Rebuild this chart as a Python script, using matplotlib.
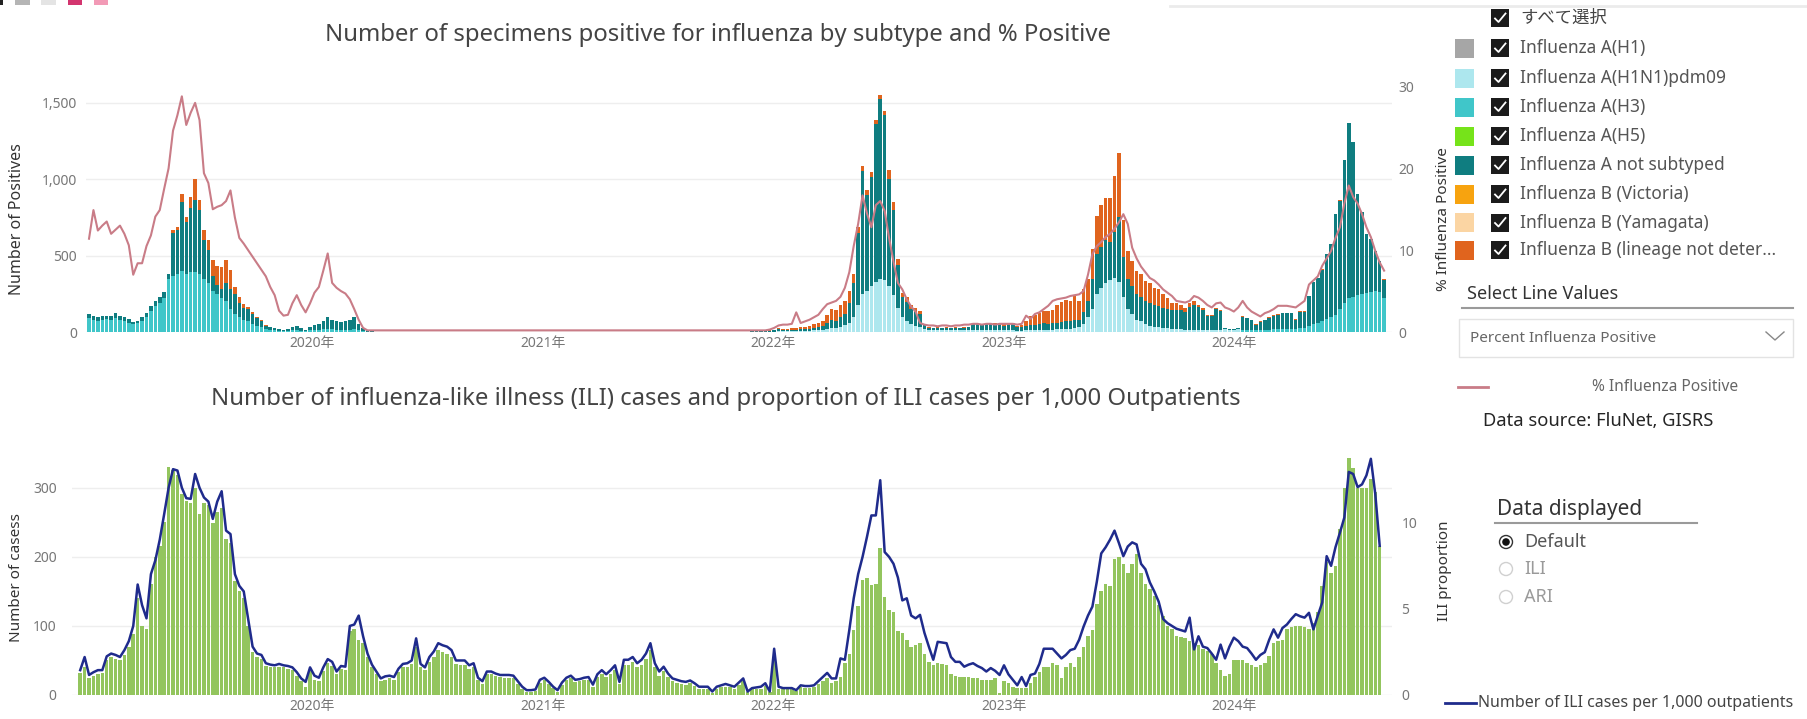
import numpy as np
import pandas as pd
import matplotlib
matplotlib.use("Agg")
import matplotlib.pyplot as plt
from matplotlib.patches import Rectangle, Circle
from matplotlib.ticker import FuncFormatter

plt.rcParams["font.family"] = ["Noto Sans", "Noto Sans CJK JP", "DejaVu Sans"]

# ---- weekly data ----
# top panel: specimens positive by subtype, weeks from 2019-01-13
top_start = "2019-01-13"
# bottom panel: ILI, weeks from 2018-12-30
ili_start = "2018-12-30"

a_h3 = [
    90, 80, 75, 80, 82, 78, 90, 80, 72, 62,
    50, 58, 75, 100, 140, 170, 190, 220, 350, 370,
    380, 400, 380, 390, 395, 380, 350, 320, 270, 250,
    220, 200, 150, 120, 100, 80, 70, 55, 40, 30,
    20, 14, 10, 8, 6, 8, 12, 14, 9, 4,
    10, 12, 14, 18, 22, 20, 16, 15, 16, 16,
    20, 12, 6, 3, 2, 0, 0, 0, 0, 0,
    0, 0, 0, 0, 0, 0, 0, 0, 0, 0, 0, 0, 0, 0, 0, 0, 0, 0, 0, 0, 0, 0, 0, 0, 0, 0, 0, 0, 0, 0, 0, 0, 0, 0, 0, 0, 0, 0, 0, 0,
    0, 0, 0, 0, 0, 0, 0, 0, 0, 0, 0, 0, 0, 0, 0, 0, 0, 0, 0, 0, 0, 0, 0, 0, 0, 0, 0, 0, 0, 0, 0, 0, 0, 0, 0, 0, 0, 0, 0, 0,
    0, 0, 0, 0, 0, 0, 0, 0, 0, 0, 0, 0, 0, 0, 0, 0, 0, 0, 0, 0, 0, 0, 0, 0, 0, 0, 0, 0, 0, 0, 0, 0, 0, 0, 0, 0, 0, 0, 0, 0,
    0, 0, 0, 0, 0, 0, 0, 0, 0, 0, 0, 0, 0, 0, 0, 0, 0, 0, 0, 0, 0, 0, 0, 0, 0, 0, 0, 0, 0, 0, 0, 0, 0, 0, 0, 0, 0, 0, 0, 0,
    0, 0, 0, 0, 0, 0, 0, 0, 0, 0, 0, 0, 0, 0, 0, 0, 0, 0, 0, 0, 0, 0, 0, 0, 0, 0, 0, 0, 0, 0,
    0, 15, 15, 14, 12, 14, 15, 16, 18, 18,
    20, 20, 22, 18, 25, 28, 40, 50, 60, 70,
    85, 100, 114, 150, 190, 224, 230, 240, 250, 255,
    260, 268, 260, 220,
]

a_h1n1pdm = [
    0, 0, 0, 0, 0, 0, 0, 0, 0, 0, 0, 0, 0, 0, 0, 0, 0, 0, 0, 0, 0, 0, 0, 0, 0, 0, 0, 0, 0, 0, 0, 0, 0, 0, 0, 0, 0, 0, 0, 0,
    0, 0, 0, 0, 0, 0, 0, 0, 0, 0, 0, 0, 0, 0, 0, 0, 0, 0, 0, 0, 0, 0, 0, 0, 0, 0, 0, 0, 0, 0, 0, 0, 0, 0, 0, 0, 0, 0, 0, 0,
    0, 0, 0, 0, 0, 0, 0, 0, 0, 0, 0, 0, 0, 0, 0, 0, 0, 0, 0, 0, 0, 0, 0, 0, 0, 0, 0, 0, 0, 0, 0, 0, 0, 0, 0, 0, 0, 0, 0, 0,
    0, 0, 0, 0, 0, 0, 0, 0, 0, 0, 0, 0, 0, 0, 0, 0, 0, 0, 0, 0, 0, 0, 0, 0, 0, 0, 0, 0, 0, 0,
    1, 1, 2, 2, 2, 3, 5, 4, 4, 5,
    5, 6, 6, 8, 10, 12, 15, 20, 25, 25,
    35, 45, 60, 100, 180, 250, 270, 300, 330, 350,
    340, 300, 240, 160, 100, 70, 50, 40, 30, 20,
    15, 14, 14, 12, 13, 12, 12, 10, 10, 10,
    12, 12, 10, 12, 12, 12, 10, 10, 10, 10,
    8, 8, 10, 12, 12, 14, 15, 15, 16, 18,
    20, 22, 22, 28, 30, 50, 100, 150, 250, 290,
    320, 340, 356, 330, 230, 150, 120, 80, 70, 50,
    40, 35, 30, 28, 25, 22, 20, 18, 16, 16,
    15, 15, 14, 12, 12, 12, 12, 18, 16, 16,
    18,
    0, 0, 0, 0, 0, 0, 0, 0, 0, 0, 0, 0, 0, 0, 0, 0, 0, 0, 0, 0, 0, 0, 0, 0, 0, 0, 0, 0, 0, 0, 0, 0, 0,
]

a_not_subtyped = [
    30, 25, 23, 25, 26, 26, 32, 28, 26, 23,
    18, 17, 20, 22, 30, 35, 38, 42, 30, 280,
    290, 450, 340, 420, 470, 420, 250, 215, 100, 60,
    60, 120, 130, 130, 90, 80, 80, 66, 52, 42,
    22, 18, 15, 10, 9, 12, 20, 26, 16, 8,
    25, 33, 41, 52, 76, 60, 54, 50, 59, 62,
    78, 38, 19, 7, 3,
    0, 0, 0, 0, 0, 0, 0, 0, 0, 0, 0, 0, 0, 0, 0, 0, 0, 0, 0, 0, 0, 0, 0, 0, 0, 0, 0, 0, 0, 0, 0, 0, 0, 0, 0, 0, 0, 0, 0, 0,
    0, 0, 0, 0, 0, 0, 0, 0, 0, 0, 0, 0, 0, 0, 0, 0, 0, 0, 0, 0, 0, 0, 0, 0, 0, 0, 0, 0, 0, 0, 0, 0, 0, 0, 0, 0, 0, 0, 0, 0,
    0, 0, 0, 0, 0,
    4, 4, 6, 6, 6, 8, 12, 8, 8, 10,
    10, 14, 12, 14, 16, 20, 25, 40, 55, 50,
    60, 75, 130, 220, 470, 807, 628, 714, 1030, 1175,
    1080, 700, 560, 280, 130, 125, 100, 93, 86, 24,
    14, 12, 14, 11, 15, 14, 16, 14, 18, 22,
    38, 42, 35, 44, 40, 40, 37, 32, 38, 40,
    24, 25, 30, 36, 37, 40, 41, 40, 41, 42,
    45, 48, 48, 52, 50, 80, 100, 200, 260, 270,
    280, 250, 300, 420, 260, 200, 180, 170, 160, 150,
    150, 140, 140, 130, 125, 120, 125, 125, 115, 150,
    165, 150, 132, 92, 94, 138, 128, 5, 4, 4,
    6, 85, 75, 65, 36, 54, 63, 77, 90, 95,
    103, 103, 101, 62, 109, 106, 193, 278, 294, 339,
    423, 474, 658, 710, 934, 1142, 1015, 664, 533, 385,
    347, 262, 204, 123,
]

b_not_determined = [
    0, 0, 0, 0, 0, 0, 0, 0, 0, 0,
    0, 0, 0, 0, 0, 0, 0, 0, 0, 16,
    20, 56, 35, 75, 135, 62, 65, 65, 100, 120,
    145, 150, 125, 45, 40, 26, 14, 10, 6, 4,
    2, 1,
    0, 0, 0, 0, 0, 0, 0, 0, 0, 0, 0, 0, 0, 0, 0, 0, 0, 0, 0, 0, 0, 0, 0, 0, 0, 0, 0, 0, 0, 0, 0, 0, 0, 0, 0, 0, 0, 0, 0, 0,
    0, 0, 0, 0, 0, 0, 0, 0, 0, 0, 0, 0, 0, 0, 0, 0, 0, 0, 0, 0, 0, 0, 0, 0, 0, 0, 0, 0, 0, 0, 0, 0, 0, 0, 0, 0, 0, 0, 0, 0,
    0, 0, 0, 0, 0, 0, 0, 0, 0, 0, 0, 0, 0, 0, 0, 0, 0, 0, 0, 0, 0, 0, 0, 0, 0, 0, 0, 0,
    0, 0, 0, 2, 2, 4, 9, 8, 8, 10,
    10, 15, 12, 18, 24, 28, 35, 50, 70, 70,
    85, 80, 80, 60, 40, 30, 30, 35, 30, 30,
    25, 60, 51, 37, 27, 34, 30, 25, 20, 4,
    2, 2, 2, 2, 2, 2, 2, 2, 2, 3,
    5, 6, 5, 6, 6, 8, 8, 8, 10, 12,
    8, 12, 30, 55, 65, 71, 80, 85, 90, 115,
    130, 140, 130, 160, 120, 150, 150, 195, 250, 270,
    280, 290, 364, 420, 245, 180, 166, 150, 148, 134,
    133, 115, 109, 88, 74, 49, 46, 37, 27, 25,
    22, 15, 12, 10, 8, 8, 7, 3, 2, 2,
    2, 3, 2, 2, 2, 2, 2, 2, 2, 2,
    2, 2, 2, 2, 2, 2, 2, 2, 2, 2,
    2, 2, 2, 2, 2, 2, 2, 2, 2, 2,
    2, 2, 2, 2,
]

pct_positive = [
    11.4, 14.9, 12.4, 13.0, 13.5, 12.0, 12.5, 13.0, 12.0, 10.6,
    7.0, 8.4, 8.4, 10.5, 11.8, 14.1, 14.9, 17.5, 20.0, 24.6,
    26.5, 28.8, 25.3, 26.8, 28.0, 25.9, 19.4, 18.2, 15.0, 15.3,
    15.5, 16.0, 17.3, 14.0, 11.5, 10.8, 10.0, 9.2, 8.4, 7.6,
    6.8, 5.5, 4.5, 2.6, 2.0, 2.1, 3.5, 4.5, 3.3, 2.4,
    3.5, 4.8, 5.5, 7.5, 9.6, 6.0, 5.4, 5.0, 4.7, 4.0,
    2.8, 1.5, 0.5, 0.2, 0.2, 0.2, 0.2, 0.2, 0.2, 0.2,
    0.2, 0.2, 0.2, 0.2, 0.2, 0.2, 0.2, 0.2, 0.2, 0.2, 0.2, 0.2, 0.2, 0.2, 0.2, 0.2, 0.2, 0.2, 0.2, 0.2, 0.2,
    0.2, 0.2, 0.2, 0.2, 0.2, 0.2, 0.2, 0.2, 0.2, 0.2, 0.2, 0.2, 0.2, 0.2, 0.2, 0.2, 0.2, 0.2, 0.2, 0.2, 0.2,
    0.2, 0.2, 0.2, 0.2, 0.2, 0.2, 0.2, 0.2, 0.2, 0.2, 0.2, 0.2, 0.2, 0.2, 0.2, 0.2, 0.2, 0.2, 0.2, 0.2, 0.2,
    0.2, 0.2, 0.2, 0.2, 0.2, 0.2, 0.2, 0.2, 0.2, 0.2, 0.2, 0.2, 0.2, 0.2, 0.2, 0.2, 0.2, 0.2, 0.2, 0.2, 0.2,
    0.3, 0.5, 0.8, 0.9, 0.9, 1.0, 2.4, 1.1, 1.3, 1.5,
    1.8, 2.1, 2.8, 3.4, 3.6, 3.8, 4.3, 5.4, 7.3, 10.5,
    13.2, 16.7, 14.5, 12.8, 15.5, 16.0, 14.8, 11.5, 8.6, 6.0,
    5.2, 4.0, 3.1, 2.5, 1.1, 0.9, 0.8, 0.8, 0.7, 0.8,
    0.8, 0.7, 0.8, 0.8, 0.9, 0.9, 1.0, 1.0, 0.9, 1.0,
    1.0, 0.9, 1.0, 1.0, 1.0, 1.0, 0.9, 1.0, 2.0, 1.6,
    2.2, 2.4, 2.8, 3.2, 3.8, 4.0, 4.1, 4.2, 4.4, 4.5,
    4.6, 5.0, 7.0, 9.5, 10.5, 11.0, 11.6, 12.0, 12.6, 13.4,
    14.4, 13.2, 10.3, 9.0, 8.0, 7.3, 6.6, 6.3, 5.8, 5.2,
    4.8, 4.4, 3.8, 3.7, 3.6, 3.8, 4.4, 4.2, 3.8, 3.3,
    3.0, 3.5, 3.6, 3.0, 2.8, 2.5, 3.0, 3.8, 3.0, 2.5,
    2.2, 1.9, 2.3, 2.5, 2.8, 3.2, 3.2, 3.2, 3.1, 3.0,
    3.4, 3.8, 5.8, 6.3, 6.8, 8.1, 9.0, 9.9, 11.5, 12.8,
    15.7, 17.9, 16.5, 15.7, 14.4, 12.8, 11.6, 9.9, 8.5, 7.5,
]

ili_cases = [
    32, 40, 25, 28, 30, 32, 50, 55, 52, 50, 58, 70, 88, 140, 100, 95, 160, 200, 215, 250,
    330, 325, 318, 290, 280, 278, 300, 262, 278, 275, 248, 265, 270, 225, 220, 165, 150, 140, 100, 62,
    55, 52, 42, 40, 40, 40, 40, 38, 36, 28, 20, 12, 35, 22, 20, 35, 46, 42, 30, 38,
    36, 92, 95, 80, 75, 55, 40, 30, 20, 22, 24, 22, 33, 40, 40, 45, 70, 40, 36, 48,
    55, 65, 62, 60, 55, 45, 44, 44, 38, 40, 22, 16, 30, 30, 27, 26, 25, 25, 24, 16,
    9, 5, 5, 6, 18, 22, 16, 10, 5, 15, 22, 24, 19, 20, 22, 22, 12, 26, 30, 26,
    30, 36, 16, 44, 44, 48, 40, 44, 52, 65, 40, 28, 35, 26, 20, 18, 16, 15, 17, 13,
    9, 9, 9, 3, 9, 11, 12, 11, 9, 14, 20, 4, 8, 8, 9, 13, 4, 55, 9, 8,
    8, 8, 6, 11, 10, 10, 11, 16, 20, 24, 18, 20, 26, 46, 60, 94, 128, 166, 169, 159,
    160, 212, 142, 123, 120, 92, 89, 80, 70, 72, 75, 60, 48, 43, 46, 45, 43, 30, 28, 26,
    26, 26, 24, 24, 22, 22, 22, 24, 3, 20, 18, 12, 10, 10, 10, 17, 26, 33, 41, 41,
    46, 43, 24, 40, 46, 41, 55, 70, 85, 94, 132, 150, 160, 158, 197, 200, 190, 177, 190, 204,
    177, 160, 153, 143, 130, 114, 100, 95, 85, 84, 83, 78, 75, 72, 66, 63, 60, 46, 36, 27,
    30, 51, 51, 51, 46, 44, 41, 44, 46, 56, 75, 78, 80, 95, 98, 100, 100, 98, 95, 104,
    120, 158, 192, 177, 187, 240, 300, 342, 328, 299, 300, 299, 313, 294, 216,
]

ili_per_1000 = [
    1.44, 2.2, 1.16, 1.32, 1.44, 1.44, 2.24, 2.4, 2.32, 2.2, 2.6, 3.12, 4.0, 6.4, 5.2, 4.44, 7.0, 7.8, 9.0, 10.48,
    12.0, 13.08, 13.0, 12.0, 11.4, 11.36, 12.8, 12.0, 11.44, 11.2, 10.2, 11.2, 11.8, 9.52, 9.32, 7.0, 6.32, 6.0, 4.4, 2.8,
    2.4, 2.32, 1.84, 1.76, 1.72, 1.8, 1.72, 1.68, 1.6, 1.32, 0.96, 0.76, 1.6, 1.12, 1.0, 1.6, 2.08, 1.92, 1.36, 1.68,
    1.64, 4.0, 4.08, 4.6, 3.4, 2.4, 1.76, 1.36, 0.96, 1.08, 1.12, 1.04, 1.52, 1.8, 1.84, 2.0, 3.28, 1.8, 1.6, 2.2,
    2.52, 3.0, 2.88, 2.8, 2.6, 2.0, 2.0, 2.0, 1.72, 1.84, 1.0, 0.8, 1.36, 1.36, 1.24, 1.16, 1.16, 1.16, 1.12, 0.8,
    0.48, 0.28, 0.28, 0.32, 0.88, 1.0, 0.76, 0.48, 0.28, 0.72, 1.0, 1.12, 0.88, 0.92, 1.0, 1.04, 0.6, 1.2, 1.44, 1.2,
    1.44, 1.72, 0.76, 2.04, 2.04, 2.2, 1.84, 2.04, 2.4, 3.0, 1.84, 1.36, 1.64, 1.24, 0.96, 0.88, 0.8, 0.76, 0.84, 0.68,
    0.48, 0.48, 0.48, 0.2, 0.48, 0.56, 0.64, 0.56, 0.48, 0.72, 0.96, 0.2, 0.4, 0.44, 0.48, 0.68, 0.2, 2.68, 0.48, 0.4,
    0.4, 0.4, 0.28, 0.56, 0.52, 0.52, 0.56, 0.8, 1.04, 1.28, 0.96, 0.96, 2.12, 2.04, 3.76, 5.6, 7.0, 8.0, 9.16, 10.4,
    10.4, 12.44, 8.28, 8.0, 7.6, 6.8, 5.48, 5.6, 4.6, 4.44, 4.64, 3.6, 2.8, 2.04, 3.08, 3.04, 3.0, 2.2, 1.92, 1.92,
    1.64, 1.76, 1.84, 1.68, 1.56, 1.36, 1.56, 1.4, 1.16, 1.72, 1.2, 0.88, 0.56, 1.04, 0.52, 1.16, 1.24, 1.8, 2.68, 2.68,
    2.68, 2.4, 2.12, 2.32, 2.6, 2.68, 3.2, 3.96, 4.6, 5.12, 6.56, 8.2, 8.56, 9.0, 9.52, 8.8, 8.04, 8.6, 8.84, 8.72,
    7.6, 7.28, 6.52, 6.0, 5.4, 4.4, 4.16, 4.0, 3.84, 3.76, 3.68, 4.48, 2.64, 3.4, 2.8, 2.72, 2.4, 2.04, 2.92, 2.12,
    2.8, 3.32, 3.12, 2.8, 2.72, 2.4, 2.04, 2.32, 2.48, 3.2, 3.8, 3.32, 3.88, 4.08, 4.4, 4.68, 4.56, 4.48, 4.76, 3.8,
    4.6, 5.36, 8.04, 7.48, 8.56, 9.4, 10.28, 12.92, 12.8, 12.04, 12.2, 12.72, 13.68, 11.64, 8.64,
]

legend_names = [
    "Influenza A(H1)", "Influenza A(H1N1)pdm09", "Influenza A(H3)",
    "Influenza A(H5)", "Influenza A not subtyped", "Influenza B (Victoria)",
    "Influenza B (Yamagata)", "Influenza B (lineage not deter...",
]
legend_colors = [
    "#a6a6a6", "#ade7ee", "#40c6c9", "#76e31a",
    "#0f7d80", "#f7a30f", "#fbd5a3", "#e0641e",
]
years = [2020, 2021, 2022, 2023, 2024]

top_dates = pd.date_range(top_start, periods=len(pct_positive), freq="7D")
ili_dates = pd.date_range(ili_start, periods=len(ili_cases), freq="7D")
year_ticks = pd.to_datetime(["%d-01-01" % y for y in years])
year_labels = ["%d年" % y for y in years]

W, H = 1808, 719
fig = plt.figure(figsize=(W / 100, H / 100), dpi=100, facecolor="white")


def box(x0, y0, x1, y1):
    # pixel box (top-left origin) to figure fraction
    return [x0 / W, 1 - y1 / H, (x1 - x0) / W, (y1 - y0) / H]


def fx(x):
    return x / W


def fy(y):
    return 1 - y / H


def style_axis(ax):
    for s in ax.spines.values():
        s.set_visible(False)
    ax.tick_params(length=0, labelcolor="#777777", labelsize=10)


# ---- top chart ----
ax1 = fig.add_axes(box(86.5, 86.5, 1391.7, 332))
stack = [
    (a_h1n1pdm, legend_colors[1]),
    (a_h3, legend_colors[2]),
    (a_not_subtyped, legend_colors[4]),
    (b_not_determined, legend_colors[7]),
]
base = np.zeros(len(top_dates))
for vals, col in stack:
    ax1.bar(top_dates, vals, width=5.6, bottom=base, color=col, linewidth=0)
    base = base + np.array(vals)
ax1.set_xlim(pd.Timestamp("2019-01-09"), pd.Timestamp("2024-09-06"))
ax1.set_ylim(0, 1608)
ax1.set_yticks([0, 500, 1000, 1500])
ax1.yaxis.set_major_formatter(FuncFormatter(lambda v, p: "{:,.0f}".format(v)))
ax1.yaxis.grid(True, color="#eeeeee", lw=1)
ax1.set_axisbelow(True)
ax1.set_xticks(year_ticks)
ax1.set_xticklabels(year_labels)
style_axis(ax1)
ax1.tick_params(axis="y", pad=7)
ax1.tick_params(axis="x", pad=3)

ax1r = ax1.twinx()
ax1r.plot(top_dates, pct_positive, color="#c97c87", lw=1.5)
ax1r.set_ylim(0, 30)
ax1r.set_yticks([0, 10, 20, 30])
style_axis(ax1r)
ax1r.tick_params(axis="y", pad=5)

# ---- bottom chart ----
ax2 = fig.add_axes(box(72, 455, 1391.7, 695))
ax2.bar(ili_dates, ili_cases, width=5.6, color="#93c55e", linewidth=0)
ax2.set_xlim(pd.Timestamp("2018-12-17"), pd.Timestamp("2024-09-06"))
ax2.set_ylim(0, 347)
ax2.set_yticks([0, 100, 200, 300])
ax2.yaxis.grid(True, color="#eeeeee", lw=1)
ax2.set_axisbelow(True)
ax2.set_xticks(year_ticks)
ax2.set_xticklabels(year_labels)
style_axis(ax2)
ax2.tick_params(axis="y", pad=11)
ax2.tick_params(axis="x", pad=3)

ax2r = ax2.twinx()
ax2r.plot(ili_dates, ili_per_1000, color="#1f2b8c", lw=1.8)
ax2r.set_ylim(0, 13.9)
ax2r.set_yticks([0, 5, 10])
style_axis(ax2r)
ax2r.tick_params(axis="y", pad=7)

# ---- titles and axis labels ----
fig.text(fx(718), fy(35), "Number of specimens positive for influenza by subtype and % Positive",
         ha="center", va="center", fontsize=17.2, color="#444444")
fig.text(fx(726), fy(399),
         "Number of influenza-like illness (ILI) cases and proportion of ILI cases per 1,000 Outpatients",
         ha="center", va="center", fontsize=17.2, color="#444444")
fig.text(fx(17), fy(219), "Number of Positives", rotation=90, ha="center", va="center",
         fontsize=11.5, color="#333333")
fig.text(fx(1444), fy(219), "% Influenza Positive", rotation=90, ha="center", va="center",
         fontsize=11, color="#333333")
fig.text(fx(17), fy(577), "Number of casess", rotation=90, ha="center", va="center",
         fontsize=11, color="#333333")
fig.text(fx(1445), fy(571), "ILI proportion", rotation=90, ha="center", va="center",
         fontsize=11, color="#333333")

# ---- side panel drawn in pixel coordinates ----
ov = fig.add_axes([0, 0, 1, 1], facecolor="none")
ov.set_xlim(0, W)
ov.set_ylim(H, 0)
ov.set_axis_off()

# cut-off page fragments along the top edge
for x0, x1, col in [(0, 3, "#222222"), (15, 30, "#b5b5b5"), (41, 56, "#e4e4e4"),
                    (68, 82, "#d3356f"), (94, 108, "#f29ab6")]:
    ov.add_patch(Rectangle((x0, 0), x1 - x0, 5, color=col, lw=0))
ov.plot([1170, W], [6, 6], color="#ebebeb", lw=2)


def checkbox(cx, cy):
    ov.add_patch(Rectangle((cx - 9, cy - 9), 18, 18, color="#1b1b1b", lw=0))
    ov.plot([cx - 5, cx - 1.5, cx + 5.5], [cy + 0.5, cy + 4, cy - 4.5], color="white", lw=1.3)


checkbox(1500, 18)
ov.text(1520, 18, "すべて選択", ha="left", va="center", fontsize=12.5, color="#444444")
legend_rows = [48, 78, 107, 136, 165, 194, 222.5, 250]
for name, col, yy in zip(legend_names, legend_colors, legend_rows):
    ov.add_patch(Rectangle((1455, yy - 9.5), 19, 19, color=col, lw=0))
    checkbox(1500, yy)
    ov.text(1520, yy, name, ha="left", va="center", fontsize=12.5, color="#555555")

ov.text(1467, 294, "Select Line Values", ha="left", va="center", fontsize=13, color="#333333")
ov.plot([1462, 1793], [308, 308], color="#9a9a9a", lw=1.5)
ov.add_patch(Rectangle((1459, 319), 334, 38, facecolor="white", edgecolor="#e3e3e3", lw=1))
ov.text(1470, 338, "Percent Influenza Positive", ha="left", va="center", fontsize=11, color="#666666")
ov.plot([1766, 1775, 1784], [332, 340, 332], color="#888888", lw=1)

ov.plot([1458, 1488], [387, 387], color="#c97c87", lw=2)
ov.text(1592, 387, "% Influenza Positive", ha="left", va="center", fontsize=11.2, color="#666666")
ov.text(1483, 421, "Data source: FluNet, GISRS", ha="left", va="center", fontsize=13.2, color="#252525")

ov.text(1497, 509, "Data displayed", ha="left", va="center", fontsize=15, color="#333333")
ov.plot([1495, 1697], [523, 523], color="#9a9a9a", lw=1.5)
ov.add_patch(Circle((1506, 542), 6.5, facecolor="white", edgecolor="#333333", lw=1))
ov.add_patch(Circle((1506, 542), 3.8, color="#111111", lw=0))
ov.text(1524, 542, "Default", ha="left", va="center", fontsize=13, color="#555555")
for yy, lab in [(569, "ILI"), (597, "ARI")]:
    ov.add_patch(Circle((1506, yy), 6.5, facecolor="white", edgecolor="#d0d0d0", lw=1))
    ov.text(1524, yy, lab, ha="left", va="center", fontsize=13, color="#9a9a9a")

ov.plot([1445, 1476], [703, 703], color="#1f2b8c", lw=2)
ov.text(1478, 703, "Number of ILI cases per 1,000 outpatients", ha="left", va="center",
        fontsize=11.5, color="#444444")

fig.savefig("out.png", dpi=100, facecolor="white")
